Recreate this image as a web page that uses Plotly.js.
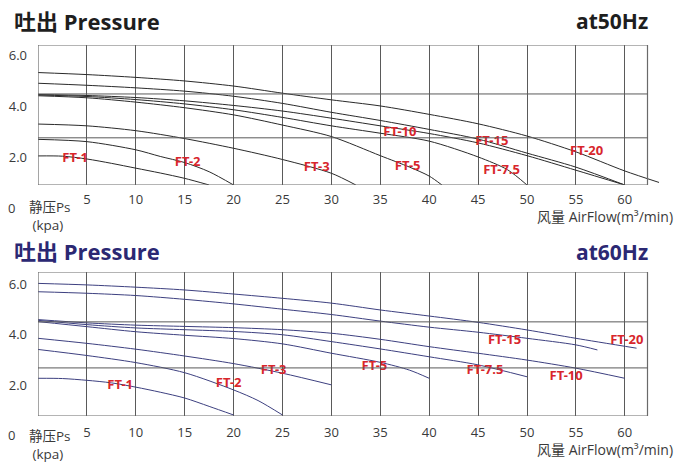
<!DOCTYPE html>
<html>
<head>
<meta charset="utf-8">
<script src="https://cdn.plot.ly/plotly-3.0.1.min.js"></script>
<style>html,body{margin:0;padding:0;background:#fff;}#chart{width:677px;height:463px;}</style>
</head>
<body>
<div id="chart"></div>
<script>
// ---------- data ----------
const MODELS = ["FT-1", "FT-2", "FT-3", "FT-5", "FT-7.5", "FT-10", "FT-15", "FT-20"];

// 50 Hz curves (airflow m3/min -> static pressure kPa)
const HZ50_X = {
  "FT-1":   [0, 2.5, 5, 7.5, 10, 12.5, 15, 17.5],
  "FT-2":   [0, 5, 10, 12.5, 15, 17.5, 20],
  "FT-3":   [0, 5, 10, 15, 20, 25, 30, 32.5],
  "FT-5":   [0, 5, 10, 15, 20, 25, 30, 35, 38, 40, 41.3],
  "FT-7.5": [0, 5, 10, 15, 20, 25, 30, 35, 40, 45, 48, 50],
  "FT-10":  [0, 5, 10, 15, 20, 25, 30, 35, 40, 45, 50, 55, 60],
  "FT-15":  [0, 5, 10, 15, 20, 25, 30, 35, 40, 45, 50, 55, 60],
  "FT-20":  [0, 5, 10, 15, 20, 25, 30, 35, 40, 45, 50, 55, 60, 63.5]
};
const HZ50_Y = {
  "FT-1":   [2.04, 2.03, 1.92, 1.75, 1.56, 1.37, 1.16, 0.9],
  "FT-2":   [2.69, 2.6, 2.28, 2.02, 1.78, 1.42, 0.9],
  "FT-3":   [3.29, 3.22, 3.03, 2.72, 2.34, 1.9, 1.36, 0.9],
  "FT-5":   [4.40, 4.32, 4.15, 3.93, 3.65, 3.25, 2.8, 2.05, 1.6, 1.25, 0.9],
  "FT-7.5": [4.43, 4.37, 4.25, 4.08, 3.85, 3.55, 3.22, 2.93, 2.62, 2.0, 1.5, 0.9],
  "FT-10":  [4.45, 4.41, 4.33, 4.2, 4.02, 3.8, 3.52, 3.22, 2.92, 2.55, 2.05, 1.48, 0.9],
  "FT-15":  [4.89, 4.81, 4.71, 4.58, 4.38, 4.1, 3.75, 3.43, 3.08, 2.7, 2.15, 1.6, 0.9],
  "FT-20":  [5.31, 5.23, 5.12, 4.98, 4.78, 4.5, 4.24, 4.0, 3.67, 3.3, 2.82, 2.2, 1.45, 1.0]
};
const HZ50_LABEL_X = [3.8, 15.3, 28.5, 37.8, 47.4, 37.0, 46.4, 56.1];
const HZ50_LABEL_Y = [1.92, 1.78, 1.56, 1.62, 1.46, 2.95, 2.6, 2.21];

// 60 Hz curves
const HZ60_X = {
  "FT-1":   [0, 2.5, 5, 7.5, 10, 12.5, 15, 17.5, 20],
  "FT-2":   [0, 5, 10, 15, 20, 22.5, 25],
  "FT-3":   [0, 5, 10, 15, 20, 25, 30],
  "FT-5":   [0, 5, 10, 15, 20, 25, 30, 35, 38, 40],
  "FT-7.5": [0, 5, 10, 15, 20, 25, 30, 35, 40, 45, 50],
  "FT-10":  [0, 5, 10, 15, 20, 25, 30, 35, 40, 45, 50, 55, 60],
  "FT-15":  [0, 5, 10, 15, 20, 25, 30, 35, 40, 45, 50, 55, 57.2],
  "FT-20":  [0, 5, 10, 15, 20, 25, 30, 35, 40, 45, 50, 55, 61.2]
};
const HZ60_Y = {
  "FT-1":   [2.28, 2.27, 2.2, 2.1, 1.93, 1.73, 1.5, 1.17, 0.83],
  "FT-2":   [3.42, 3.18, 2.9, 2.5, 1.82, 1.4, 0.83],
  "FT-3":   [3.86, 3.66, 3.43, 3.16, 2.86, 2.48, 2.02],
  "FT-5":   [4.52, 4.32, 4.12, 3.98, 3.85, 3.64, 3.27, 2.91, 2.6, 2.28],
  "FT-7.5": [4.57, 4.4, 4.27, 4.2, 4.13, 4.0, 3.73, 3.44, 3.13, 2.81, 2.34],
  "FT-10":  [4.60, 4.47, 4.38, 4.33, 4.28, 4.2, 4.06, 3.82, 3.53, 3.27, 3.0, 2.68, 2.28],
  "FT-15":  [5.70, 5.64, 5.55, 5.40, 5.22, 5.01, 4.80, 4.54, 4.30, 4.10, 3.86, 3.60, 3.40],
  "FT-20":  [6.03, 5.97, 5.88, 5.77, 5.61, 5.44, 5.25, 4.98, 4.74, 4.49, 4.19, 3.86, 3.47]
};
const HZ60_LABEL_X = [8.4, 19.5, 24.1, 34.4, 45.7, 54.0, 47.7, 60.2];
const HZ60_LABEL_Y = [1.98, 2.06, 2.58, 2.74, 2.58, 2.34, 3.75, 3.75];

const X_TICKS = [5, 10, 15, 20, 25, 30, 35, 40, 45, 50, 55, 60];
const X_TICK_TEXT = ["5", "10", "15", "20", "25", "30", "35", "40", "45", "50", "55", "60"];
const Y_TICKS = [2, 4, 6];
const Y_TICK_TEXT = ["2.0", "4.0", "6.0"];

// ---------- styling ----------
const W = 677, H = 463;
const py = p => 1 - p / H;
const px = p => p / W;
const GRID = "#5a5a5a";
const FRAME = "#6a6a6a";
const RED = "#d8262c";
const C50 = "#2a2a2a";
const C60 = "#3d4080";
const NAVY = "#2b2873";
const FONT = "'Open Sans', 'Noto Sans CJK SC', sans-serif";

const traces = [];
MODELS.forEach(m => {
  traces.push({x: HZ50_X[m], y: HZ50_Y[m], mode: "lines", xaxis: "x", yaxis: "y",
    line: {color: C50, width: 1, shape: "spline", smoothing: 0.8}, hoverinfo: "skip", showlegend: false});
  traces.push({x: HZ60_X[m], y: HZ60_Y[m], mode: "lines", xaxis: "x2", yaxis: "y2",
    line: {color: C60, width: 1, shape: "spline", smoothing: 0.8}, hoverinfo: "skip", showlegend: false});
});
const LBL_FONT = {family: "'Noto Sans', sans-serif", size: 13, color: RED, weight: 700};
traces.push({x: HZ50_LABEL_X, y: HZ50_LABEL_Y, text: MODELS, mode: "text", xaxis: "x", yaxis: "y",
  textfont: LBL_FONT, showlegend: false, hoverinfo: "skip", cliponaxis: false});
traces.push({x: HZ60_LABEL_X, y: HZ60_LABEL_Y, text: MODELS, mode: "text", xaxis: "x2", yaxis: "y2",
  textfont: LBL_FONT, showlegend: false, hoverinfo: "skip", cliponaxis: false});

const XDOM = [px(38), px(660)];
const XR = [0, (660 - 38) / 9.78];
const FRAME_X1 = (647.5 - 38) / 9.78;

function xaxisDef(anchor, standoff) {
  return {domain: XDOM, range: XR, anchor: anchor, tickmode: "array", tickvals: X_TICKS, ticktext: X_TICK_TEXT,
    showgrid: true, gridcolor: GRID, gridwidth: 1, zeroline: false, showline: false, ticks: "",
    ticklabelstandoff: standoff, tickfont: {family: FONT, size: 13, color: "#3a3a3a"}, fixedrange: true};
}
function yaxisDef(anchor, dom, range) {
  return {domain: dom, range: range, anchor: anchor, tickmode: "array", tickvals: Y_TICKS, ticktext: Y_TICK_TEXT,
    showgrid: false, zeroline: false, showline: false, ticks: "", ticklabelstandoff: 10,
    tickfont: {family: FONT, size: 13, color: "#3a3a3a"}, fixedrange: true};
}

const Y1R = [0.9, 6.39], Y2R = [0.79, 6.48];
const shapes = [
  {type: "rect", xref: "x", yref: "y", x0: 0, x1: FRAME_X1, y0: Y1R[0], y1: Y1R[1], line: {color: FRAME, width: 1.2}},
  {type: "line", xref: "x", yref: "y", x0: 0, x1: FRAME_X1, y0: 4.47, y1: 4.47, line: {color: GRID, width: 1}},
  {type: "line", xref: "x", yref: "y", x0: 0, x1: FRAME_X1, y0: 2.75, y1: 2.75, line: {color: GRID, width: 1}},
  {type: "rect", xref: "x2", yref: "y2", x0: 0, x1: FRAME_X1, y0: Y2R[0], y1: Y2R[1], line: {color: FRAME, width: 1.2}},
  {type: "line", xref: "x2", yref: "y2", x0: 0, x1: FRAME_X1, y0: 4.51, y1: 4.51, line: {color: GRID, width: 1}},
  {type: "line", xref: "x2", yref: "y2", x0: 0, x1: FRAME_X1, y0: 2.69, y1: 2.69, line: {color: GRID, width: 1}}
];

function ann(text, x, y, xanchor, size, color, bold) {
  return {text: text, xref: "paper", yref: "paper", x: px(x), y: py(y), xanchor: xanchor, yanchor: "middle",
    showarrow: false, align: "left", font: {family: FONT, size: size, color: color, weight: bold ? 700 : 400}};
}
const NB = "\u00a0";
const annotations = [
  ann("吐出 Pressure", 12, 21, "left", 22, "#1e1e1e", true),
  ann("at50Hz", 650, 21, "right", 21, "#1e1e1e", true),
  ann("吐出 Pressure", 12, 251, "left", 22, NAVY, true),
  ann("at60Hz", 650, 252, "right", 21, NAVY, true),
  ann("0", 6, 208, "left", 13, "#3a3a3a", false),
  ann("静压Ps<br>" + NB + "(kpa)", 27, 216, "left", 13.5, "#3a3a3a", false),
  ann("风量 AirFlow(m³/min)", 675, 216, "right", 14, "#3a3a3a", false),
  ann("0", 6, 435, "left", 13, "#3a3a3a", false),
  ann("静压Ps<br>" + NB + "(kpa)", 27, 445, "left", 13.5, "#3a3a3a", false),
  ann("风量 AirFlow(m³/min)", 675, 449, "right", 14, "#3a3a3a", false)
];

const layout = {
  width: W, height: H, margin: {l: 0, r: 0, t: 0, b: 0},
  paper_bgcolor: "#fff", plot_bgcolor: "rgba(0,0,0,0)",
  showlegend: false,
  xaxis: xaxisDef("y", 5),
  yaxis: yaxisDef("x", [py(185), py(45)], Y1R),
  xaxis2: xaxisDef("y2", 7),
  yaxis2: yaxisDef("x2", [py(416), py(272)], Y2R),
  shapes: shapes, annotations: annotations
};
Plotly.newPlot("chart", traces, layout, {staticPlot: true, displayModeBar: false});
</script>
</body>
</html>
